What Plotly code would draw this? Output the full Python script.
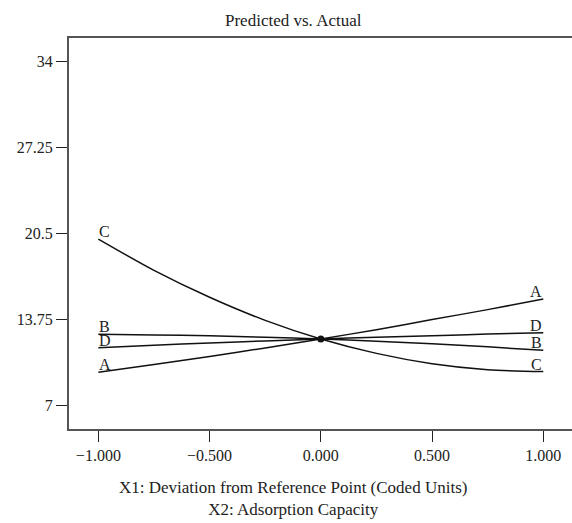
import plotly.graph_objects as go

# Perturbation curves: response vs. deviation from the reference point
x_dev = [-1.0, -0.75, -0.5, -0.25, 0.0, 0.25, 0.5, 0.75, 1.0]
factor_names = ["A", "B", "C", "D"]
resp_A = [9.62, 10.23, 10.85, 11.53, 12.23, 12.96, 13.75, 14.53, 15.36]
resp_B = [12.60, 12.55, 12.48, 12.37, 12.23, 12.06, 11.85, 11.61, 11.34]
resp_C = [20.06, 17.61, 15.50, 13.69, 12.23, 11.10, 10.29, 9.82, 9.67]
resp_D = [11.55, 11.74, 11.92, 12.08, 12.23, 12.37, 12.49, 12.61, 12.72]

ref_x = 0.0
ref_y = 12.23

x_ticks = [-1.0, -0.5, 0.0, 0.5, 1.0]
y_ticks = [7, 13.75, 20.5, 27.25, 34]
y_tick_text = ["7", "13.75", "20.5", "27.25", "34"]

FONT = "Liberation Serif"
TEXT = "#222222"
series = dict(zip(factor_names, [resp_A, resp_B, resp_C, resp_D]))

fig = go.Figure()
for name, ys in series.items():
    fig.add_trace(go.Scatter(
        x=x_dev, y=ys, mode="lines", name=name,
        line=dict(color="#111111", width=1.5, shape="spline", smoothing=0.8),
        showlegend=False, hoverinfo="skip",
    ))

# reference point where all curves meet
fig.add_trace(go.Scatter(
    x=[ref_x], y=[ref_y], mode="markers",
    marker=dict(color="#111111", size=7),
    showlegend=False, hoverinfo="skip",
))

# factor letters sitting just above both ends of each curve
for name, ys in series.items():
    fig.add_annotation(x=x_dev[0], y=ys[0], text=name, showarrow=False,
                       xanchor="left", yanchor="bottom", yshift=-2, borderpad=0,
                       font=dict(family=FONT, size=16, color=TEXT))
    fig.add_annotation(x=x_dev[-1], y=ys[-1], text=name, showarrow=False,
                       xanchor="right", yanchor="bottom", yshift=-2, borderpad=0,
                       font=dict(family=FONT, size=16, color=TEXT))

fig.add_annotation(x=0.446, y=1, xref="paper", yref="paper", yanchor="bottom",
                   yshift=6, text="Predicted vs. Actual", showarrow=False,
                   font=dict(family=FONT, size=17, color=TEXT))

fig.add_annotation(x=0.446, y=0, xref="paper", yref="paper", yanchor="top",
                   yshift=-47,
                   text="X1: Deviation from Reference Point (Coded Units)<br>X2: Adsorption Capacity",
                   showarrow=False, align="center",
                   font=dict(family=FONT, size=17, color=TEXT))

fig.update_layout(
    width=572, height=523,
    margin=dict(l=69, r=0, t=38, b=94),
    paper_bgcolor="white", plot_bgcolor="white",
    font=dict(family=FONT, size=16, color=TEXT),
)
fig.update_xaxes(
    range=[-1.132, 1.129], tickvals=x_ticks, tickformat=".3f",
    showline=True, linecolor="#555555", linewidth=2, mirror=True,
    ticks="outside", ticklen=11, tickwidth=1.3, tickcolor="#222222",
    showgrid=False, zeroline=False,
)
fig.update_yaxes(
    range=[5.17, 35.83], tickvals=y_ticks, ticktext=y_tick_text,
    showline=True, linecolor="#555555", linewidth=2, mirror=False,
    ticks="outside", ticklen=11, tickwidth=1.3, tickcolor="#222222",
    showgrid=False, zeroline=False,
)

fig.write_html("out.html")
